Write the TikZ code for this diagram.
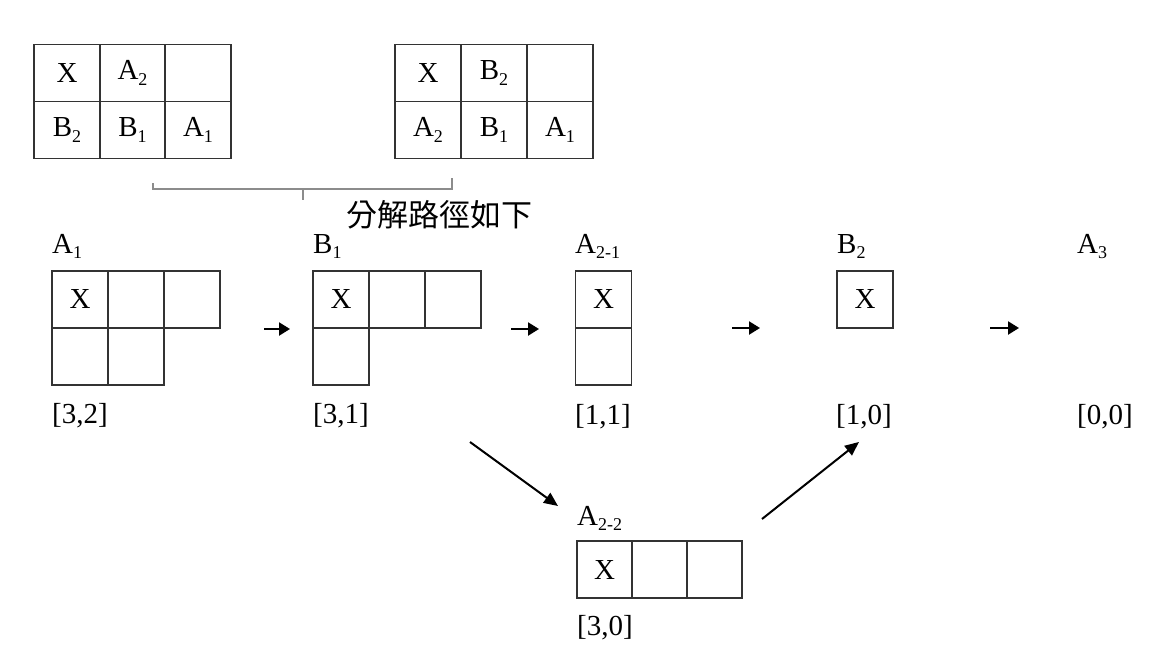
\documentclass[tikz,border=0pt]{standalone}
\usepackage{fontspec}
\setmainfont{Liberation Serif}
\newfontfamily\cjk{Noto Sans CJK TC}
\usetikzlibrary{arrows.meta}
\newcommand\lowsub[1]{\raisebox{-0.4ex}{\fontsize{18}{18}\selectfont #1}}
\begin{document}
\begin{tikzpicture}[x=1pt,y=-1pt,
  cell/.style={draw=black!80, line width=1.3pt, minimum width=56pt, minimum height=57pt, inner sep=0pt, font=\fontsize{29}{32}\selectfont},
  wcell/.style={cell, minimum width=66pt},
  nmcell/.style={cell, minimum width=55pt},
  lbl/.style={inner sep=0pt, anchor=base west, font=\fontsize{29}{32}\selectfont},
  vec/.style={inner sep=0pt, anchor=west, font=\fontsize{29}{32}\selectfont},
  smallarrow/.style={line width=2.2pt, -{Triangle[length=11pt,width=13pt]}},
  longarrow/.style={line width=2pt, -{Triangle[length=14pt,width=12pt]}},
  brace/.style={draw=black!45, line width=1.4pt}]
\useasboundingbox (0,0) rectangle (1152,656);
% top-left table
\node[wcell] (tl11) at (67,73) {X};
\node[wcell] (tl12) at (132.5,73) {A\lowsub{2}};
\node[wcell] (tl13) at (198,73) {};
\node[wcell] (tl21) at (67,130) {B\lowsub{2}};
\node[wcell] (tl22) at (132.5,130) {B\lowsub{1}};
\node[wcell] (tl23) at (198,130) {A\lowsub{1}};
% top-right table
\node[wcell] (tr11) at (428,73) {X};
\node[wcell] (tr12) at (494,73) {B\lowsub{2}};
\node[wcell] (tr13) at (560,73) {};
\node[wcell] (tr21) at (428,130) {A\lowsub{2}};
\node[wcell] (tr22) at (494,130) {B\lowsub{1}};
\node[wcell] (tr23) at (560,130) {A\lowsub{1}};
% bracket
\coordinate (bl) at (153,183);
\coordinate (blb) at (153,189);
\coordinate (brb) at (452,189);
\coordinate (br) at (452,178);
\coordinate (bm) at (303,189);
\coordinate (bmd) at (303,200);
\draw[brace] (bl) -- (blb) -- (brb) -- (br);
\draw[brace] (bm) -- (bmd);
\node[inner sep=0pt, font=\cjk\fontsize{31}{31}\selectfont] (title) at (439,215) {分解路徑如下};
% A1
\node[lbl] (la1) at (52,253) {A\lowsub{1}};
\node[cell] (a11) at (80,299.5) {X};
\node[cell] (a12) at (136,299.5) {};
\node[cell] (a13) at (192,299.5) {};
\node[cell] (a21) at (80,356.5) {};
\node[cell] (a22) at (136,356.5) {};
\node[vec] (va1) at (52,416) {[3,2]};
% B1
\node[lbl] (lb1) at (313,253) {B\lowsub{1}};
\node[cell] (b11) at (341,299.5) {X};
\node[cell] (b12) at (397,299.5) {};
\node[cell] (b13) at (453,299.5) {};
\node[cell] (b21) at (341,356.5) {};
\node[vec] (vb1) at (313,416) {[3,1]};
% A2-1
\node[lbl] (la21) at (575,253) {A\lowsub{2-1}};
\node[cell] (c11) at (603.5,299.5) {X};
\node[cell] (c21) at (603.5,356.5) {};
\node[vec] (vc) at (575,417) {[1,1]};
% B2
\node[lbl] (lb2) at (837,253) {B\lowsub{2}};
\node[cell] (d11) at (865,299.5) {X};
\node[vec] (vd) at (836,417) {[1,0]};
% A3
\node[lbl] (la3) at (1077,253) {A\lowsub{3}};
\node[vec] (ve) at (1077,417) {[0,0]};
% A2-2
\node[lbl] (la22) at (577,525) {A\lowsub{2-2}};
\node[nmcell] (f11) at (604.5,569.5) {X};
\node[nmcell] (f12) at (659.5,569.5) {};
\node[nmcell] (f13) at (714.5,569.5) {};
\node[vec] (vf) at (577,628) {[3,0]};
% small arrows
\coordinate (s1a) at (264,329); \coordinate (s1b) at (290,329);
\coordinate (s2a) at (511,329); \coordinate (s2b) at (539,329);
\coordinate (s3a) at (732,328); \coordinate (s3b) at (760,328);
\coordinate (s4a) at (990,328); \coordinate (s4b) at (1019,328);
\draw[smallarrow] (s1a) -- (s1b);
\draw[smallarrow] (s2a) -- (s2b);
\draw[smallarrow] (s3a) -- (s3b);
\draw[smallarrow] (s4a) -- (s4b);
% diagonal arrows
\coordinate (d1a) at (470,442); \coordinate (d1b) at (558,506);
\coordinate (d2a) at (762,519); \coordinate (d2b) at (859,442);
\draw[longarrow] (d1a) -- (d1b);
\draw[longarrow] (d2a) -- (d2b);
\end{tikzpicture}
\end{document}
